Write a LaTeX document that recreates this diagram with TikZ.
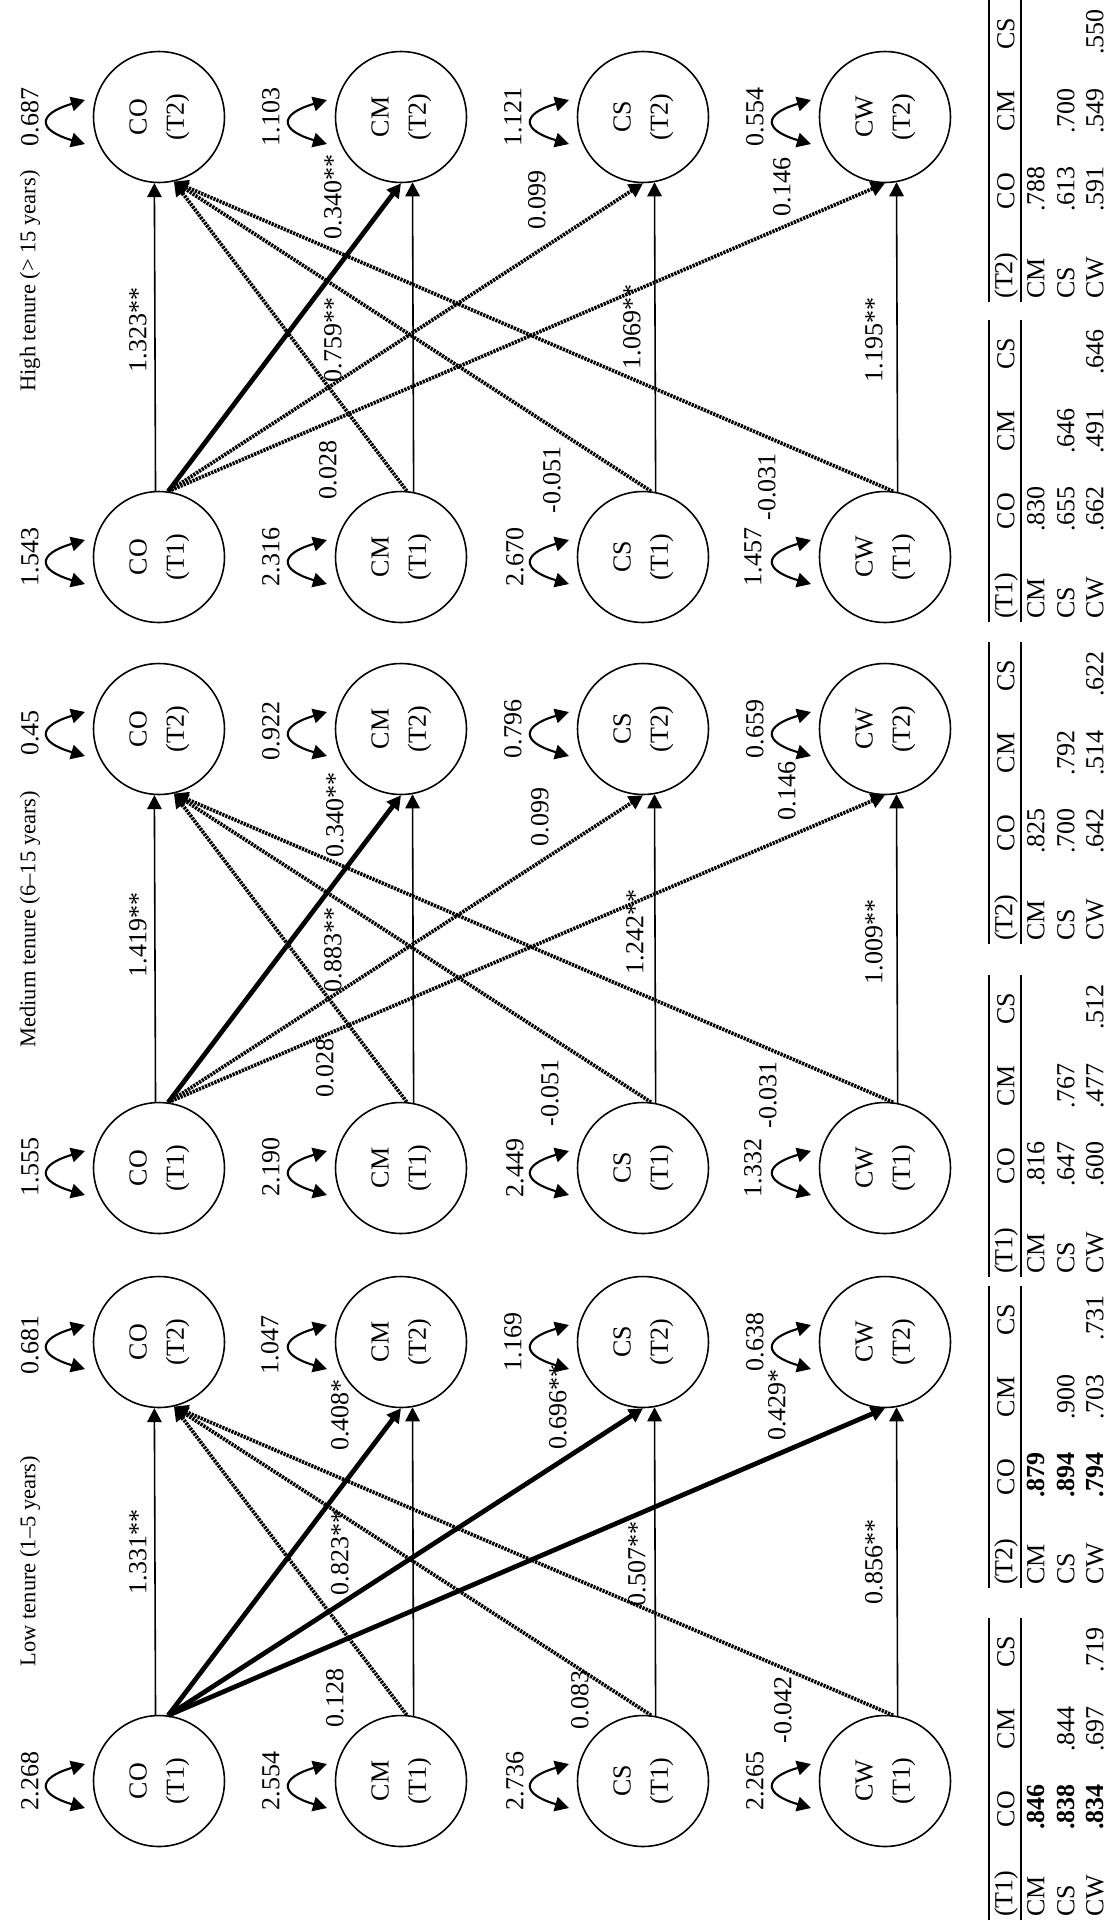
\documentclass[tikz,border=0pt]{standalone}
\usepackage{fontspec}
\setmainfont{Liberation Serif}
\usepackage{graphicx}
\usetikzlibrary{arrows.meta}

% two-line label inside a latent variable, reading upwards
\newcommand\two[2]{\rotatebox{90}{\begin{tabular}{@{}c@{}}#1\\[3.5pt](#2)\end{tabular}}}
% curved double-headed variance arrow left of a latent variable
\newcommand\varloop[1]{\draw[varline] ([shift={(-74,-17)}]#1.center) .. controls ([shift={(-122,-3)}]#1.center) and ([shift={(-122,13)}]#1.center) .. ([shift={(-74,27)}]#1.center);}
% rotated text label
\newcommand\lb[4]{\node[lab] (#1) at (#2,#3) {#4};}
% lower-triangular correlation table; #1 prefix, #2 end position, #3 wave, #4-#9 values
\newcommand\corrtable[9]{%
  \draw[line width=1.2pt] (989,#2) -- (989,{#2-302});
  \draw[line width=0.8pt] (1021,#2) -- (1021,{#2-302});
  \node[lab,anchor=west] (#1a) at (1006,{#2-3}) {(#3)};
  \node[lab] (#1b) at (1006,{#2-111}) {CO};
  \node[lab] (#1c) at (1006,{#2-191}) {CM};
  \node[lab] (#1d) at (1006,{#2-268}) {CS};
  \node[lab,anchor=west] (#1e) at (1036,{#2-3}) {CM};
  \node[lab,anchor=west] (#1f) at (1066,{#2-3}) {CS};
  \node[lab,anchor=west] (#1g) at (1095,{#2-3}) {CW};
  \node[lab] (#1h) at (1036,{#2-113}) {#4};
  \node[lab] (#1i) at (1066,{#2-113}) {#5};
  \node[lab] (#1j) at (1066,{#2-191}) {#6};
  \node[lab] (#1k) at (1095,{#2-113}) {#7};
  \node[lab] (#1l) at (1095,{#2-191}) {#8};
  \node[lab] (#1m) at (1095,{#2-270}) {#9};
}

\tikzset{
  ht/.tip={Triangle[length=0.28cm,width=0.29cm]},
  txt/.style={font=\fontsize{14.8}{17.8}\selectfont},
  latent/.style={circle, draw, line width=0.9pt, minimum size=2.62cm, inner sep=0pt, txt},
  lab/.style={rotate=90, inner sep=0pt, txt},
  title/.style={rotate=90, inner sep=0pt, font=\fontsize{12.8}{15}\selectfont},
  arpath/.style={line width=0.9pt, -ht},
  sigpath/.style={line width=2.7pt, -ht},
  nspath/.style={line width=2.1pt, dash pattern=on 1.3pt off 0.6pt, -ht},
  varline/.style={line width=1.2pt, ht-ht},
}

\begin{document}
\begin{tikzpicture}[x=0.02cm, y=-0.02cm]
\useasboundingbox (0,0) rectangle (1107,1921);
\clip (0,0) rectangle (1107,1921);

% latent variables, variance arrows and stability paths of the three groups
\foreach \p/\ya/\yb in {h/117/557, m/729/1168, l/1342/1781} {
  \foreach \n/\x in {CO/159, CM/401, CS/643, CW/885} {
    \node[latent] (\p\n2) at (\x,\ya) {\two{\n}{T2}};
    \node[latent] (\p\n1) at (\x,\yb) {\two{\n}{T1}};
    \varloop{\p\n2}
    \varloop{\p\n1}
  }
  \draw[arpath] (\p CO1.93.5) -- (\p CO2.266.5);
  \foreach \n in {CM,CS,CW} {\draw[arpath] (\p\n1.79.5) -- (\p\n2.280.5);}
}

% cross-lagged paths: high tenure
\draw[sigpath] (hCO1.82) -- (hCM2.270);
\draw[nspath] (hCO1.82) -- (hCS2.270);
\draw[nspath] (hCO1.82) -- (hCW2.270);
\draw[nspath] (hCM1.85) -- (hCO2.283);
\draw[nspath] (hCS1.83) -- (hCO2.283);
\draw[nspath] (hCW1.83) -- (hCO2.283);
% cross-lagged paths: medium tenure
\draw[sigpath] (mCO1.82) -- (mCM2.270);
\draw[nspath] (mCO1.82) -- (mCS2.270);
\draw[nspath] (mCO1.82) -- (mCW2.270);
\draw[nspath] (mCM1.85) -- (mCO2.283);
\draw[nspath] (mCS1.83) -- (mCO2.283);
\draw[nspath] (mCW1.83) -- (mCO2.283);
% cross-lagged paths: low tenure
\draw[sigpath] (lCO1.82) -- (lCM2.270);
\draw[sigpath] (lCO1.82) -- (lCS2.270);
\draw[sigpath] (lCO1.82) -- (lCW2.270);
\draw[nspath] (lCM1.85) -- (lCO2.283);
\draw[nspath] (lCS1.83) -- (lCO2.283);
\draw[nspath] (lCW1.83) -- (lCO2.283);

% group titles
\node[title,anchor=east] (tH) at (30,170) {High tenure (> 15 years)};
\node[title,anchor=west] (tM) at (30,1048) {Medium tenure (6–15 years)};
\node[title] (tL) at (30,1561) {Low tenure (1–5 years)};

% high tenure estimates
\lb{hv1}{30}{117}{0.687}  \lb{hv2}{271}{117}{1.103}  \lb{hv3}{513}{117}{1.121}  \lb{hv4}{755}{117}{0.554}
\lb{hv5}{30}{557}{1.543}  \lb{hv6}{271}{557}{2.316}  \lb{hv7}{515}{557}{2.670}  \lb{hv8}{753}{557}{1.457}
\lb{ha1}{138}{330}{1.323**}  \lb{ha2}{333}{340}{0.759**}  \lb{ha3}{632}{327}{1.069**}  \lb{ha4}{874}{340}{1.195**}
\lb{hc1}{333}{197}{0.340**}  \lb{hc2}{537}{200}{0.099}  \lb{hc3}{782}{187}{0.146}
\lb{hc4}{328}{470}{0.028}  \lb{hc5}{552}{480}{-0.051}  \lb{hc6}{767}{487}{-0.031}

% medium tenure estimates
\lb{mv1}{30}{733}{0.45}  \lb{mv2}{271}{731}{0.922}  \lb{mv3}{513}{729}{0.796}  \lb{mv4}{755}{729}{0.659}
\lb{mv5}{30}{1167}{1.555}  \lb{mv6}{271}{1167}{2.190}  \lb{mv7}{515}{1168}{2.449}  \lb{mv8}{753}{1168}{1.332}
\lb{ma1}{138}{935}{1.419**}  \lb{ma2}{333}{950}{0.883**}  \lb{ma3}{635}{932}{1.242**}  \lb{ma4}{874}{942}{1.009**}
\lb{mc1}{335}{815}{0.340**}  \lb{mc2}{540}{817}{0.099}  \lb{mc3}{787}{791}{0.146}
\lb{mc4}{325}{1068}{0.028}  \lb{mc5}{550}{1093}{-0.051}  \lb{mc6}{768}{1095}{-0.031}

% low tenure estimates
\lb{lv1}{30}{1345}{0.681}  \lb{lv2}{270}{1345}{1.047}  \lb{lv3}{513}{1342}{1.169}  \lb{lv4}{755}{1342}{0.638}
\lb{lv5}{30}{1781}{2.268}  \lb{lv6}{271}{1781}{2.554}  \lb{lv7}{515}{1781}{2.736}  \lb{lv8}{755}{1781}{2.265}
\lb{la1}{138}{1552}{1.331**}  \lb{la2}{340}{1553}{0.823**}  \lb{la3}{637}{1564}{0.507**}  \lb{la4}{874}{1562}{0.856**}
\lb{lc1}{340}{1415}{0.408*}  \lb{lc2}{558}{1407}{0.696**}  \lb{lc3}{777}{1405}{0.429*}
\lb{lc4}{335}{1698}{0.128}  \lb{lc5}{580}{1700}{0.083}  \lb{lc6}{783}{1710}{-0.042}

% correlation tables
\corrtable{hT}{302}{T2}{.788}{.613}{.700}{.591}{.549}{.550}
\corrtable{hS}{622}{T1}{.830}{.655}{.646}{.662}{.491}{.646}
\corrtable{mT}{944}{T2}{.825}{.700}{.792}{.642}{.514}{.622}
\corrtable{mS}{1277}{T1}{.816}{.647}{.767}{.600}{.477}{.512}
\corrtable{lT}{1588}{T2}{\textbf{.879}}{\textbf{.894}}{.900}{\textbf{.794}}{.703}{.731}
\corrtable{lS}{1920}{T1}{\textbf{.846}}{\textbf{.838}}{.844}{\textbf{.834}}{.697}{.719}
\end{tikzpicture}
\end{document}
